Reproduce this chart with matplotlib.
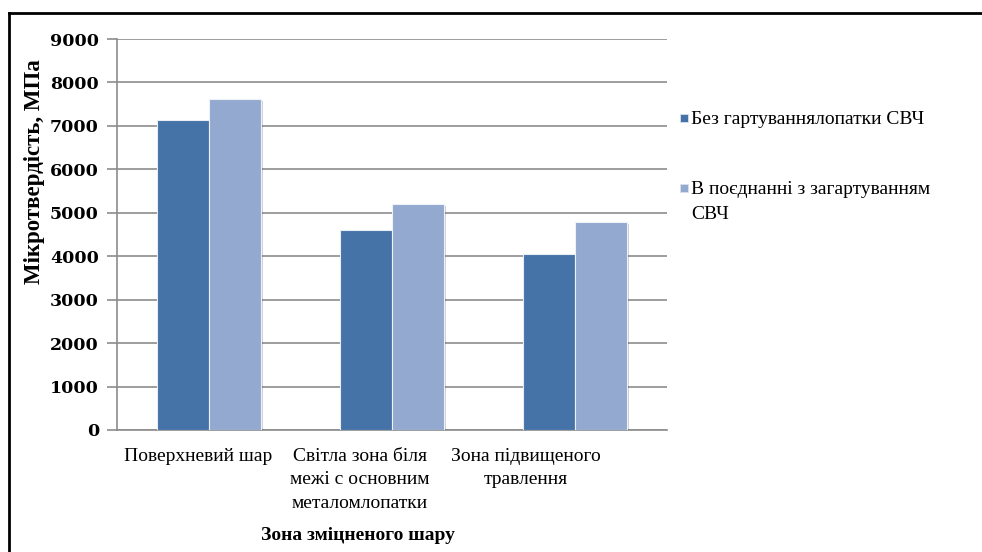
import numpy as np
import matplotlib.pyplot as plt
import matplotlib.patheffects as pe
from matplotlib.lines import Line2D
from matplotlib.patches import Rectangle
from matplotlib.transforms import blended_transform_factory

plt.rcParams['font.family'] = ['Liberation Serif', 'DejaVu Serif']

# microhardness by zone, MPa
zones = ['Поверхневий шар',
         'Світла зона біля\nмежі с основним\nметаломлопатки',
         'Зона підвищеного\nтравлення']
no_hardening = [7140, 4610, 4050]
with_hardening = [7630, 5200, 4790]
series_names = ['Без гартуванняло патки СВЧ'.replace('ло патки', 'лопатки'),
                'В поєднанні з загартуванням\nСВЧ']
yticks = [0, 1000, 2000, 3000, 4000, 5000, 6000, 7000, 8000, 9000]

c_dark = '#4572A7'
c_light = '#93A9CF'
grid_c = '#8c8c8c'

fig = plt.figure(figsize=(9.82, 5.52), dpi=100)
ax = fig.add_axes([117 / 982, 1 - 430 / 552, 550 / 982, 391 / 552])

x = np.arange(len(zones))
w = 0.283
shadow = [pe.SimplePatchShadow(offset=(1.5, -1.5), shadow_rgbFace='#000000', alpha=0.18), pe.Normal()]
b1 = ax.bar(x - w / 2, no_hardening, w, color=c_dark, edgecolor='#e8edf5', linewidth=0.8, zorder=3)
b2 = ax.bar(x + w / 2, with_hardening, w, color=c_light, edgecolor='#eef1f8', linewidth=0.8, zorder=3)
for p in list(b1) + list(b2):
    p.set_path_effects(shadow)

ax.set_xlim(-0.5, 2.5)
ax.set_ylim(0, 9000)
ax.set_yticks(yticks)
ax.set_yticklabels([str(v) for v in yticks], fontsize=12.5, fontweight='bold',
                   family=['DejaVu Serif'])
ax.yaxis.grid(True, color=grid_c, linewidth=1.2, zorder=0)
ax.tick_params(axis='y', length=7, width=1.2, color=grid_c, pad=6)
ax.set_xticks([])
for s in ['top', 'right']:
    ax.spines[s].set_visible(False)
for s in ['left', 'bottom']:
    ax.spines[s].set_color(grid_c)
    ax.spines[s].set_linewidth(1.2)

# category labels
label_shift = [-0.055, -0.175, -0.27]
trans = blended_transform_factory(ax.transData, ax.transAxes)
for i, name in enumerate(zones):
    ax.text(x[i] + label_shift[i], -0.045, name, transform=trans, ha='center', va='top',
            fontsize=14, linespacing=1.5)

fig.text(358 / 982, 1 - 535 / 552, 'Зона зміцненого шару', ha='center', va='center',
         fontsize=14, fontweight='bold')
fig.text(35 / 982, 1 - 172 / 552, 'Мікротвердість, МПа', ha='center', va='center',
         rotation=90, fontsize=16.5, fontweight='bold')

# legend drawn by hand so the marker sits on the first text line
legend_y = [118, 188]
for name, col, y in zip(series_names, [c_dark, c_light], legend_y):
    fig.add_artist(Rectangle((680 / 982, 1 - (y + 4) / 552), 8 / 982, 8 / 552,
                             facecolor=col, edgecolor='#d9e1ee', linewidth=0.6,
                             transform=fig.transFigure))
    fig.text(691 / 982, 1 - (y - 7) / 552, name, ha='left', va='top',
             fontsize=14, linespacing=1.6)

# outer chart border
fig.add_artist(Line2D([9 / 982, 1], [1 - 13 / 552] * 2, color='black', linewidth=2))
fig.add_artist(Line2D([9 / 982] * 2, [0, 1 - 13 / 552], color='black', linewidth=2))

fig.savefig('out.png', dpi=100)
